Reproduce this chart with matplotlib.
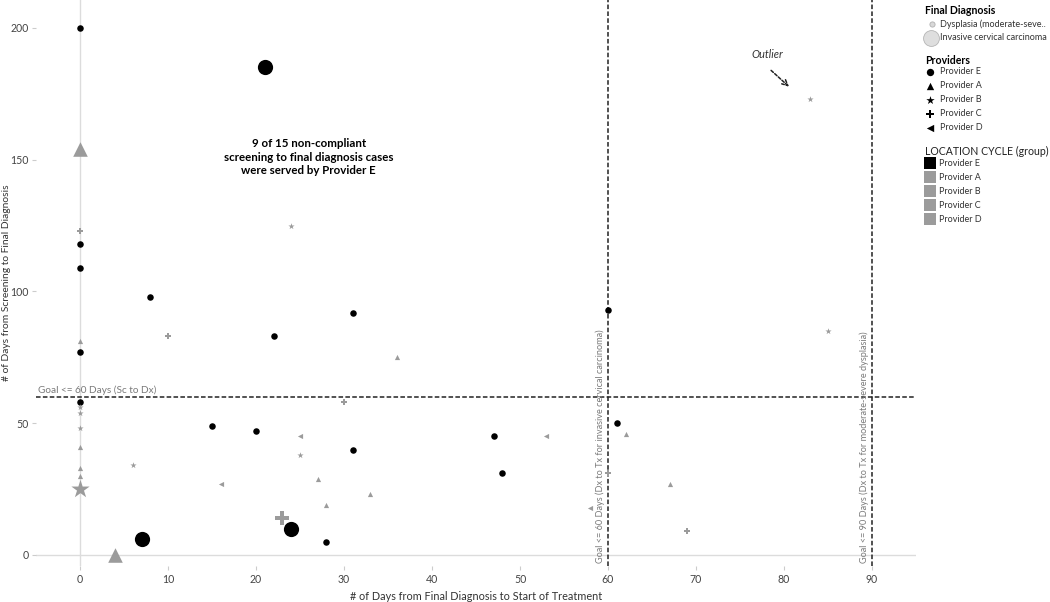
import matplotlib
matplotlib.use('Agg')
import matplotlib.pyplot as plt
import numpy as np

plt.rcParams['font.family'] = ['Lato', 'DejaVu Sans']

# data: (days dx->tx, days sc->dx) per provider and final diagnosis
prov_e_dys_x = [0, 0, 0, 0, 0, 8, 22, 31, 15, 20, 31, 28, 47, 48, 60, 61]
prov_e_dys_y = [200, 118, 109, 77, 58, 98, 83, 92, 49, 47, 40, 5, 45, 31, 93, 50]
prov_e_inv_x = [21, 7, 24]
prov_e_inv_y = [185, 6, 10]

prov_a_dys_x = [0, 0, 0, 0, 36, 27, 28, 33, 62, 67]
prov_a_dys_y = [81, 41, 33, 30, 75, 29, 19, 23, 46, 27]
prov_a_inv_x = [0, 4]
prov_a_inv_y = [154, 0]

prov_b_dys_x = [0, 0, 0, 6, 25, 24, 83, 85]
prov_b_dys_y = [56, 54, 48, 34, 38, 125, 173, 85]
prov_b_inv_x = [0]
prov_b_inv_y = [25]

prov_c_dys_x = [0, 10, 30, 60, 69]
prov_c_dys_y = [123, 83, 58, 31, 9]
prov_c_inv_x = [23]
prov_c_inv_y = [14]

prov_d_dys_x = [16, 25, 53, 58]
prov_d_dys_y = [27, 45, 45, 18]

providers = ['Provider E', 'Provider A', 'Provider B', 'Provider C', 'Provider D']
shapes = ['o', '^', '*', 'P', '<']

black = '#000000'
grey = '#9b9b9b'
txtgrey = '#7a7a7a'

fig = plt.figure(figsize=(10.5, 6.02), dpi=100)
ax = fig.add_axes([36 / 1050, 36 / 602, 880 / 1050, 566 / 602])
ax.set_xlim(-5, 95)
ax.set_ylim(-4.2, 210.6)

ax.axvline(0, color='#dcdcdc', lw=1, zorder=0)
ax.axhline(0, color='#dcdcdc', lw=1, zorder=0)

# goal lines
ax.axhline(60, color='#222222', lw=1.1, ls=(0, (3, 1.5)), zorder=1)
ax.axvline(60, color='#222222', lw=1.1, ls=(0, (3, 1.5)), zorder=1)
ax.axvline(90, color='#222222', lw=1.1, ls=(0, (3, 1.5)), zorder=1)

ax.text(-4.8, 60.8, 'Goal <= 60 Days (Sc to Dx)', fontsize=7.2, color=txtgrey,
        va='bottom', ha='left')
ax.text(59.1, -3, 'Goal <= 60 Days (Dx to Tx for invasive cervical carcinoma)',
        fontsize=6.6, color=txtgrey, rotation=90, ha='center', va='bottom')
ax.text(89.1, -3, 'Goal <= 90 Days (Dx to Tx for moderate-severe dysplasia)',
        fontsize=6.6, color=txtgrey, rotation=90, ha='center', va='bottom')

# small = dysplasia, big = invasive carcinoma
ax.scatter(prov_e_dys_x, prov_e_dys_y, s=22, marker='o', color=black, lw=0, zorder=3)
ax.scatter(prov_e_inv_x, prov_e_inv_y, s=120, marker='o', color=black, lw=0, zorder=3)
ax.scatter(prov_a_dys_x, prov_a_dys_y, s=14, marker='^', color=grey, lw=0, zorder=3)
ax.scatter(prov_a_inv_x, prov_a_inv_y, s=110, marker='^', color=grey, lw=0, zorder=3)
ax.scatter(prov_b_dys_x, prov_b_dys_y, s=22, marker='*', color=grey, lw=0, zorder=3)
ax.scatter(prov_b_inv_x, prov_b_inv_y, s=190, marker='*', color=grey, lw=0, zorder=3)
ax.scatter(prov_c_dys_x, prov_c_dys_y, s=16, marker='P', color=grey, lw=0, zorder=3)
ax.scatter(prov_c_inv_x, prov_c_inv_y, s=90, marker='P', color=grey, lw=0, zorder=3)
ax.scatter(prov_d_dys_x, prov_d_dys_y, s=14, marker='<', color=grey, lw=0, zorder=3)

ax.text(26, 151, '9 of 15 non-compliant\nscreening to final diagnosis cases\nwere served by Provider E',
        ha='center', va='center', fontsize=8.3, fontweight='bold', linespacing=1.3)

ax.text(78.1, 188, 'Outlier', fontsize=7.8, style='italic', color='#333333', ha='center', va='bottom')
ax.annotate('', xy=(80.8, 177), xytext=(78.3, 184.6),
            arrowprops=dict(arrowstyle='->', color='#222222', lw=1.1, ls=(0, (2, 1.2))))

ax.set_xticks(np.arange(0, 91, 10))
ax.set_yticks([0, 50, 100, 150, 200])
for s in ax.spines.values():
    s.set_visible(False)
ax.tick_params(axis='both', length=3, color='#cccccc', labelsize=7.6, labelcolor='#444444', pad=3)
ax.tick_params(axis='y', pad=2)
ax.set_xlabel('# of Days from Final Diagnosis to Start of Treatment', fontsize=7.8, color='#333333', labelpad=4)
ax.set_ylabel('# of Days from Screening to Final Diagnosis', fontsize=7.4, color='#333333')
ax.yaxis.set_label_coords(-0.0285, 0.5)

# legends, drawn in pixel space
lax = fig.add_axes([0, 0, 1, 1])
lax.set_xlim(0, 1050)
lax.set_ylim(602, 0)
lax.axis('off')

lfs = 6.5
lax.text(925, 11, 'Final Diagnosis', fontsize=7.6, fontweight='bold', va='center')
lax.scatter([932], [24], s=14, marker='o', color='#d8d8d8', edgecolor='#b0b0b0', lw=0.6)
lax.text(940, 24, 'Dysplasia (moderate-seve..', fontsize=lfs, color='#333333', va='center')
lax.scatter([931], [38], s=130, marker='o', color='#dedede', edgecolor='#b5b5b5', lw=0.6)
lax.text(940, 38, 'Invasive cervical carcinoma', fontsize=lfs, color='#333333', va='center')

lax.text(925, 60, 'Providers', fontsize=7.6, fontweight='bold', va='center')
for i, (p, m) in enumerate(zip(providers, shapes)):
    y = 72 + i * 14
    lax.scatter([930], [y], s=28 if m != '*' else 40, marker=m, color=black, lw=0)
    lax.text(940, y, p, fontsize=lfs, color='#333333', va='center')

lax.text(925, 151, 'LOCATION CYCLE (group)', fontsize=7.6, color='#222222', va='center')
for i, p in enumerate(providers):
    y = 163 + i * 14
    lax.scatter([930], [y], s=70, marker='s', color=black if i == 0 else grey, lw=0)
    lax.text(939, y, p, fontsize=lfs, color='#333333', va='center')

fig.savefig('out.png', dpi=100)
